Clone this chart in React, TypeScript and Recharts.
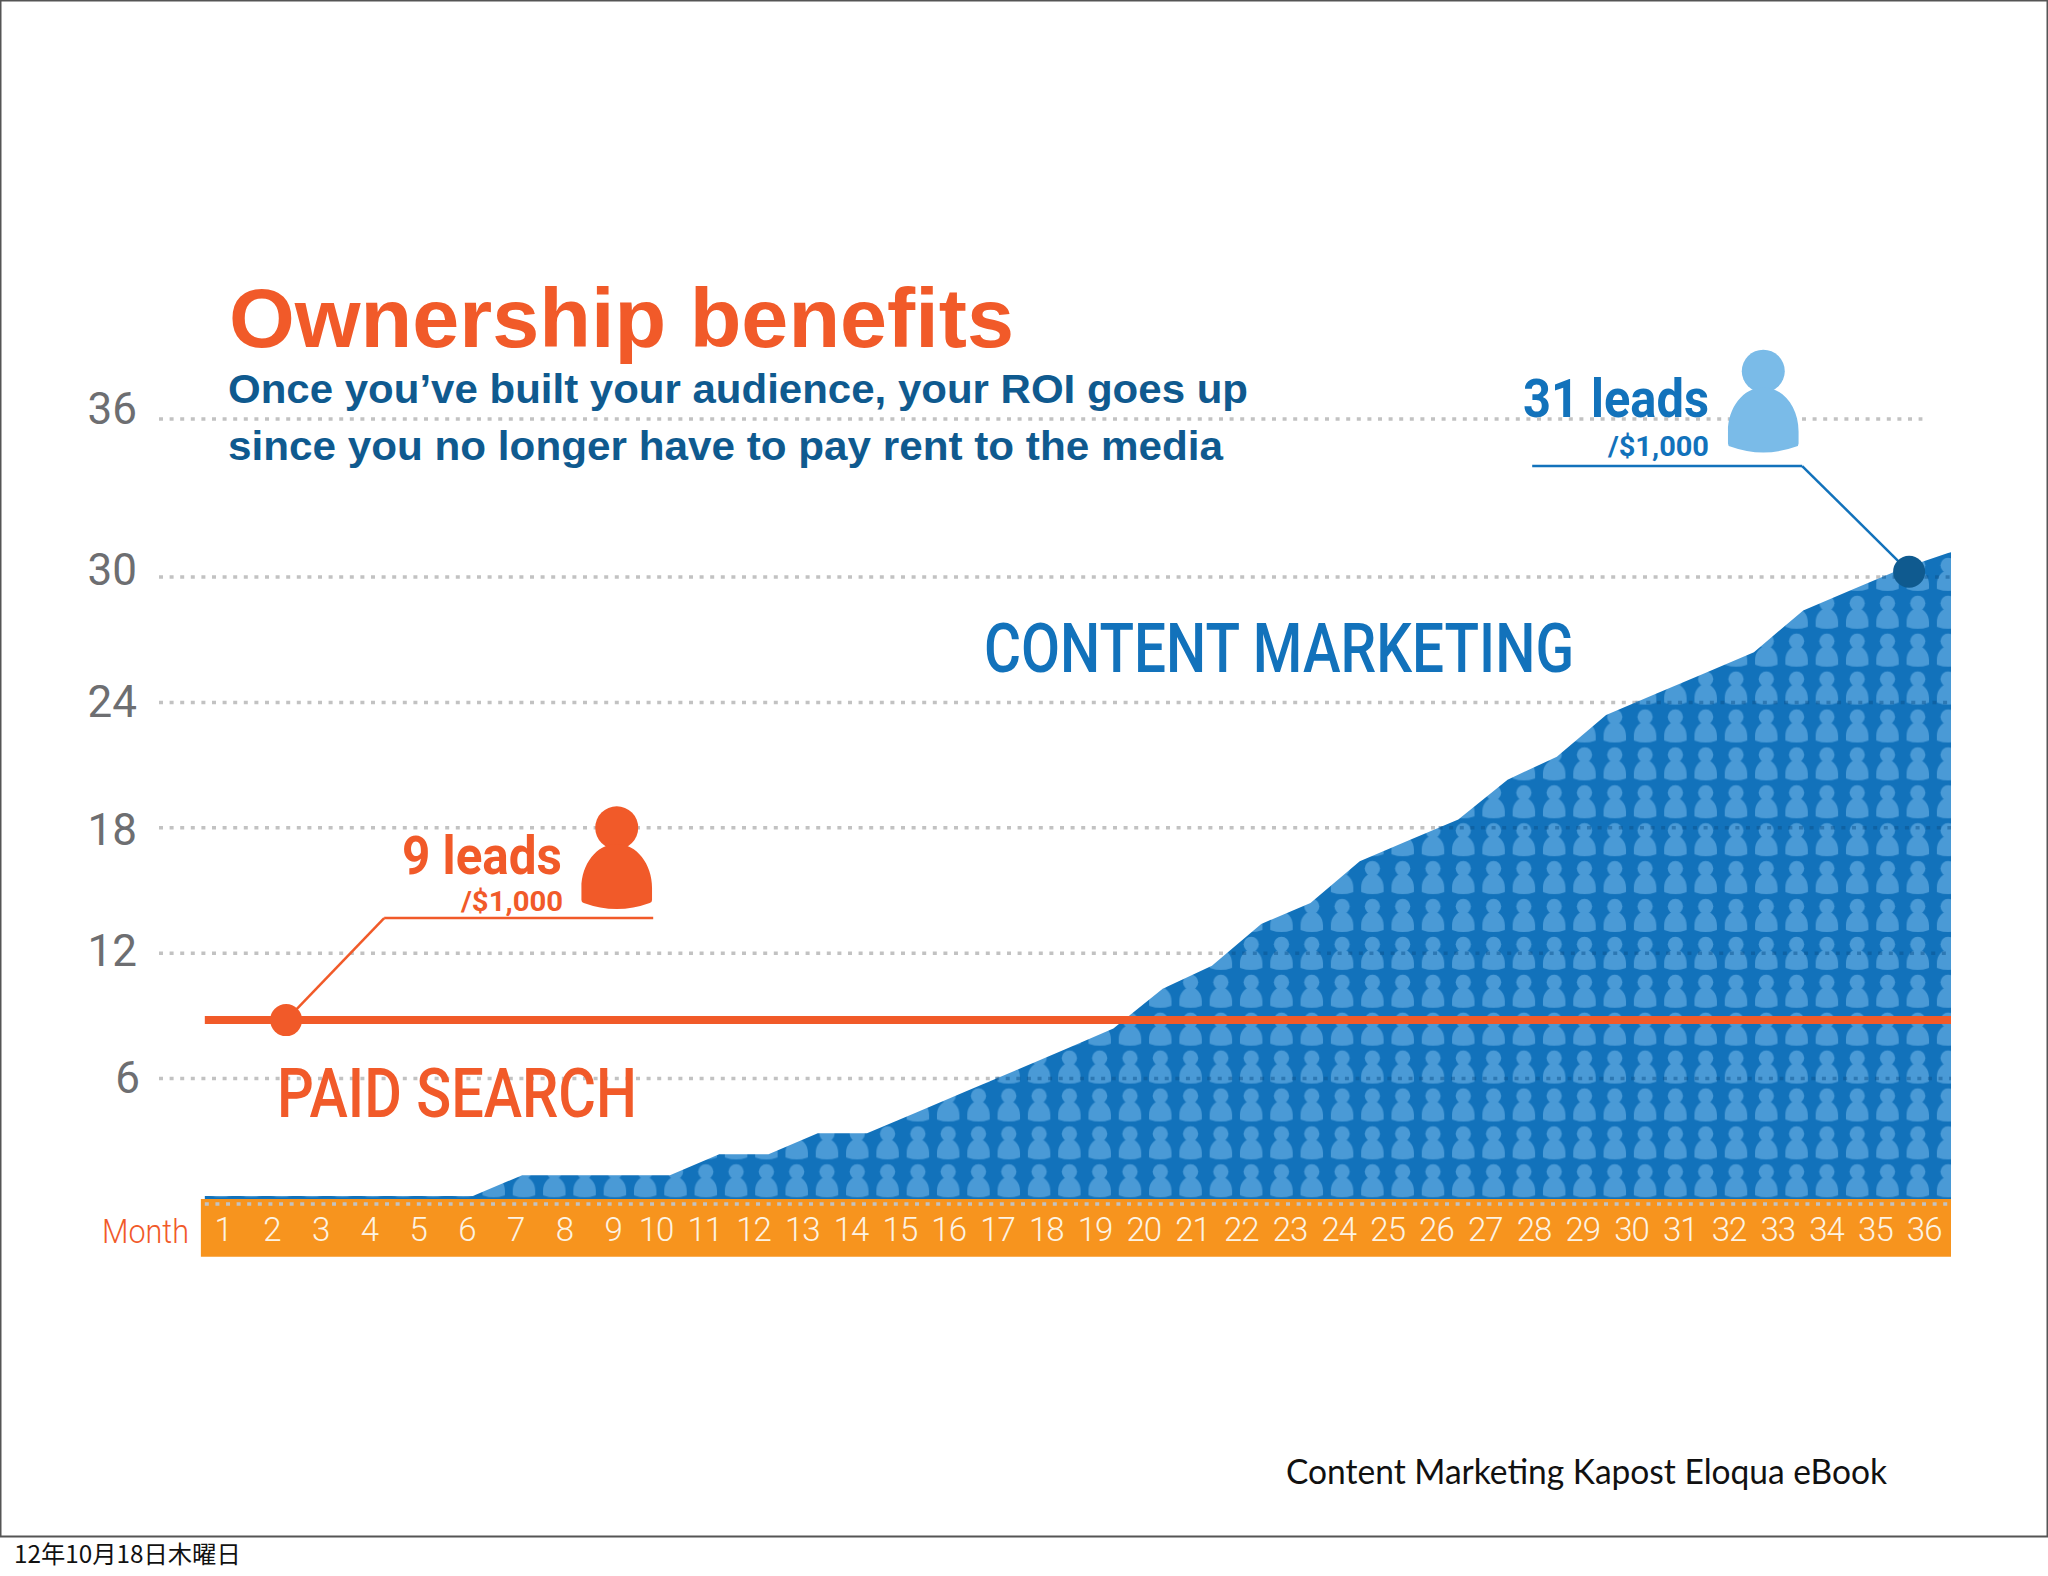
import {
  ComposedChart,
  Area,
  Line,
  XAxis,
  YAxis,
  CartesianGrid,
  ReferenceLine,
  ReferenceArea,
  ReferenceDot,
} from "recharts";

const ORANGE = "#f15a29";
const BLUE = "#1272bb";
const NAVY = "#0f5a8f";
const SKY = "#7abbe8";
const GLYPH = "#4a9ad6";
const BAND = "#f7941e";
const GRID = "#c2c2c2";

// the first entry is the left edge of month 1, where both series begin
const months = [0.56, 1, 2, 3, 4, 5, 6, 7, 8, 9, 10, 11, 12, 13, 14, 15, 16, 17, 18, 19, 20, 21, 22, 23, 24, 25, 26, 27, 28, 29, 30, 31, 32, 33, 34, 35, 36];
const contentMarketing = [0.38, 0.38, 0.38, 0.38, 0.38, 0.38, 0.38, 1.38, 1.38, 1.38, 1.38, 2.38, 2.38, 3.38, 3.38, 4.38, 5.38, 6.38, 7.38, 8.4, 10.3, 11.4, 13.4, 14.4, 16.4, 17.4, 18.4, 20.3, 21.4, 23.4, 24.4, 25.4, 26.4, 28.4, 29.4, 30.4, 31.2];
const paidSearch = months.map(() => 8.8);
const monthTicks = months.slice(1);

// the top gridline sits higher in the source than a linear 36 would
const yTicks = [6, 12, 18, 24, 30, 37.56];
const yTickLabels = ["6", "12", "18", "24", "30", "36"];
const yTickNudge = [-1, -2, 2, 0, -7, -10];
const gridEntryMonths = [16.6, 21.4, 25.6, 29.6, 34.6];

const chartData = months.map((month, i) => ({
  month,
  content: contentMarketing[i],
  paid: paidSearch[i],
}));

const WIDTH = 2048;
const HEIGHT = 1576;
const X_DOMAIN = [-0.37, 36];
const LABEL_DOMAIN = [-0.19, 36.55];
const DOTS = "4 6.6";

const BODY = "M0 -14 C20 -14 35.3 6 35.3 30 L35.3 42 Q35.3 44.5 33 45 Q0 57 -33 45 Q-35.3 44.5 -35.3 42 L-35.3 30 C-35.3 6 -20 -14 0 -14 Z";

function YTick({ y, payload }: any) {
  const i = yTicks.indexOf(payload.value);
  return (
    <text x={i === 0 ? 140 : 137} y={y + yTickNudge[i]} textAnchor="end" dominantBaseline="central" fill="#6d6e71" fontFamily="Roboto" fontSize={44}>
      {yTickLabels[i]}
    </text>
  );
}

function MonthTick({ x, payload }: any) {
  return (
    <text x={x + (payload.value < 10 ? 6 : 0)} y={1241} textAnchor="middle" fill="#fdf3e3" fontFamily="Roboto" fontWeight={300} fontSize={33} letterSpacing={-1}>
      {payload.value}
    </text>
  );
}

function Person({ cx, cy, color }: any) {
  return (
    <g transform={`translate(${cx} ${cy})`} fill={color}>
      <circle cx={0} cy={-30.3} r={21.5} />
      <path d={BODY} />
    </g>
  );
}

function T({ x, y, len, size, color, weight = 400, family = "Roboto", children }: any) {
  return (
    <text x={x} y={y} textLength={len} lengthAdjust="spacingAndGlyphs" fontSize={size} fill={color} fontWeight={weight} fontFamily={family}>
      {children}
    </text>
  );
}

export default function App() {
  return (
    <div style={{ position: "absolute", left: 0, top: 0, width: WIDTH, height: HEIGHT, background: "#fff" }}>
      <ComposedChart width={WIDTH} height={HEIGHT} data={chartData} margin={{ top: 368, right: 97, bottom: 312, left: 0 }}>
        <defs>
          <pattern id="people" patternUnits="userSpaceOnUse" x={1114.85} y={1047.7} width={30.3} height={37.9}>
            <rect width={30.3} height={37.9} fill={BLUE} />
            <circle cx={15.15} cy={10.3} r={7.6} fill={GLYPH} />
            <path d={BODY} fill={GLYPH} transform="translate(15.15 19.8) scale(0.318)" />
          </pattern>
        </defs>

        <CartesianGrid vertical={false} horizontalValues={yTicks.slice(0, 5)} stroke={GRID} strokeWidth={3.5} strokeDasharray={DOTS} />

        <XAxis dataKey="month" type="number" domain={X_DOMAIN} hide allowDataOverflow />
        <XAxis
          xAxisId="labels"
          dataKey="month"
          type="number"
          domain={LABEL_DOMAIN}
          ticks={monthTicks}
          interval={0}
          allowDataOverflow
          height={60}
          axisLine={false}
          tickLine={false}
          tick={<MonthTick />}
        />
        <YAxis
          type="number"
          domain={[0, 40]}
          ticks={yTicks}
          interval={0}
          width={159}
          axisLine={false}
          tickLine={false}
          tick={<YTick />}
        />

        <ReferenceLine segment={[{ x: X_DOMAIN[0], y: yTicks[5] }, { x: 35.42, y: yTicks[5] }]} stroke={GRID} strokeWidth={3.5} strokeDasharray={DOTS} />

        <Area dataKey="content" type="linear" fill="url(#people)" fillOpacity={1} stroke="none" baseValue={0} isAnimationActive={false} />

        {gridEntryMonths.map((m, i) => (
          <ReferenceLine key={m} segment={[{ x: m, y: yTicks[i] }, { x: 36, y: yTicks[i] }]} stroke="#0b4f8a" strokeOpacity={0.45} strokeWidth={3.5} strokeDasharray={DOTS} />
        ))}

        <ReferenceArea x1={0.48} x2={36} y1={-2.52} y2={0.24} fill={BAND} fillOpacity={1} stroke="none" ifOverflow="visible" />
        <ReferenceLine segment={[{ x: 0.56, y: 0 }, { x: 36, y: 0 }]} stroke={GRID} strokeWidth={3.5} strokeDasharray={DOTS} ifOverflow="visible" />

        <Line dataKey="paid" type="linear" stroke={ORANGE} strokeWidth={8} dot={false} isAnimationActive={false} />

        <ReferenceLine segment={[{ x: 2.21, y: 8.8 }, { x: 4.2, y: 13.68 }]} stroke={ORANGE} strokeWidth={2.5} />
        <ReferenceLine segment={[{ x: 4.2, y: 13.68 }, { x: 9.66, y: 13.68 }]} stroke={ORANGE} strokeWidth={2.5} />
        <ReferenceLine segment={[{ x: 35.15, y: 30.25 }, { x: 32.98, y: 35.31 }]} stroke={BLUE} strokeWidth={2.5} />
        <ReferenceLine segment={[{ x: 32.98, y: 35.31 }, { x: 27.5, y: 35.31 }]} stroke={BLUE} strokeWidth={2.5} />

        <ReferenceDot x={2.21} y={8.8} r={16} fill={ORANGE} stroke="none" />
        <ReferenceDot x={35.15} y={30.25} r={16} fill={NAVY} stroke="none" />
        <ReferenceDot x={8.92} y={16.55} shape={(p: any) => <Person cx={p.cx} cy={p.cy} color={ORANGE} />} />
        <ReferenceDot x={32.19} y={38.4} shape={(p: any) => <Person cx={p.cx} cy={p.cy} color={SKY} />} />

        <T x={229} y={347} len={785} size={84} color={ORANGE} weight={700} family="Liberation Sans">Ownership benefits</T>
        <T x={228} y={403} len={1020} size={41} color={NAVY} weight={700} family="Liberation Sans">Once you’ve built your audience, your ROI goes up</T>
        <T x={228} y={460} len={995} size={41} color={NAVY} weight={700} family="Liberation Sans">since you no longer have to pay rent to the media</T>

        <T x={984} y={672} len={590} size={69} color={BLUE} weight={500}>CONTENT MARKETING</T>
        <T x={277} y={1117} len={360} size={68} color={ORANGE} weight={500}>PAID SEARCH</T>

        <T x={1523} y={417} len={186} size={54} color={BLUE} weight={700}>31 leads</T>
        <T x={1608} y={456} len={101} size={28} color={BLUE} weight={700}>/$1,000</T>
        <T x={402} y={874} len={160} size={54} color={ORANGE} weight={700}>9 leads</T>
        <T x={461} y={911} len={102} size={28} color={ORANGE} weight={700}>/$1,000</T>

        <T x={102} y={1243} len={87} size={34} color={ORANGE} weight={300}>Month</T>
        <T x={1286} y={1484} len={601} size={35} color="#111" family="Lato">Content Marketing Kapost Eloqua eBook</T>
        <text x={14} y={1563} fontSize={24.3} fill="#111" fontFamily="Noto Sans CJK JP">12年10月18日木曜日</text>
        <rect x={0.5} y={0.5} width={2047} height={1536} fill="none" stroke="#555" strokeWidth={2} />
      </ComposedChart>
    </div>
  );
}
